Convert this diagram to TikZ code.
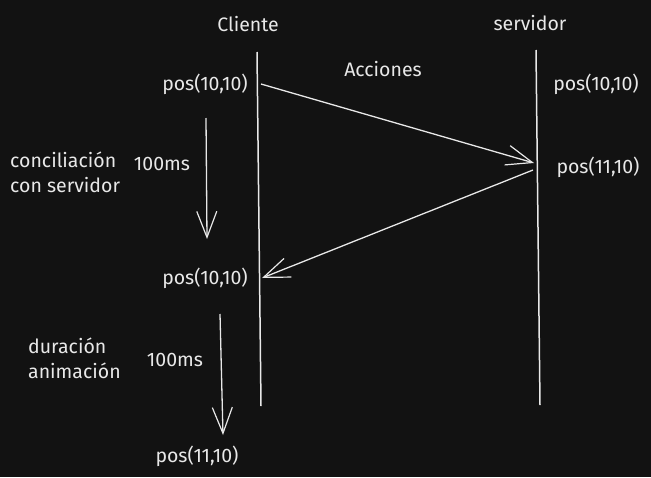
\documentclass[tikz,border=0pt]{standalone}
\usepackage{fontspec}
\setmainfont{Fira Sans}
\usetikzlibrary{arrows.meta}
\definecolor{bg}{HTML}{121212}
\definecolor{ink}{HTML}{E8E8E8}
\begin{document}
\begin{tikzpicture}[x=1pt,y=-1pt,
  lbl/.style={text=ink,font=\fontsize{19.5}{25}\selectfont\addfontfeature{Weight=300},inner sep=0pt},
  life/.style={draw=ink,line width=1.5pt},
  msg/.style={draw=ink,line width=1.3pt,-{Straight Barb[length=26pt,width=20pt,line width=1.2pt]}}]
\fill[bg] (0,0) rectangle (651,477);
\useasboundingbox (0,0) rectangle (651,477);
% headers
\node[lbl] (cli) at (248,24) {Cliente};
\node[lbl] (srv) at (530,23) {servidor};
% lifelines
\coordinate (cliTop) at (257,52);
\coordinate (cliBot) at (261,406);
\coordinate (srvTop) at (536,50);
\coordinate (srvBot) at (540,405);
\draw[life] (cliTop) -- (cliBot);
\draw[life] (srvTop) -- (srvBot);
% labels
\node[lbl] (p1) at (205,84) {pos(10,10)};
\node[lbl] (acc) at (383,69) {Acciones};
\node[lbl] (sp1) at (596,84) {pos(10,10)};
\node[lbl] (sp2) at (598,167) {pos(11,10)};
\node[lbl] (p2) at (205,278) {pos(10,10)};
\node[lbl] (p3) at (197,456) {pos(11,10)};
\node[lbl,align=left,anchor=west] (conc) at (10,172) {conciliación\\con servidor};
\node[lbl] (ms1) at (162,164) {100ms};
\node[lbl,align=left,anchor=west] (dur) at (28,358) {duración\\animación};
\node[lbl] (ms2) at (175,360) {100ms};
% messages
\coordinate (a1s) at (261,84);
\coordinate (a1e) at (534,163);
\coordinate (a2s) at (533,170);
\coordinate (a2e) at (262,278);
\draw[msg] (a1s) -- (a1e);
\draw[msg] (a2s) -- (a2e);
% time arrows
\coordinate (d1s) at (206,118);
\coordinate (d1e) at (207,239);
\coordinate (d2s) at (220,314);
\coordinate (d2e) at (223,435);
\draw[msg] (d1s) -- (d1e);
\draw[msg] (d2s) -- (d2e);
\end{tikzpicture}
\end{document}
